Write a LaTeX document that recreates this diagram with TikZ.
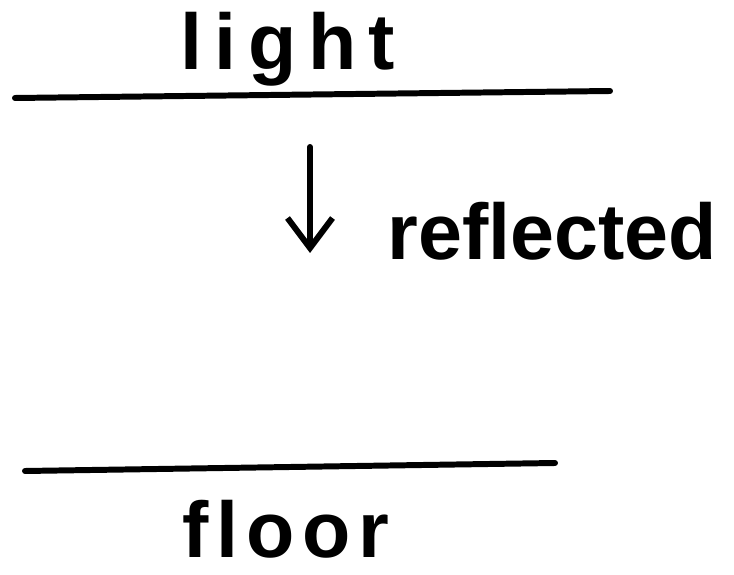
\documentclass[tikz,border=0pt]{standalone}
\usepackage{fontspec}
\setmainfont{Liberation Sans}
\usetikzlibrary{positioning, arrows.meta}
\tikzset{
  word/.style={font=\fontsize{45}{54}\selectfont\bfseries, inner sep=0pt, anchor=base},
  wide/.style={font=\fontsize{45}{54}\selectfont\bfseries\addfontfeatures{LetterSpace=#1}},
  surface/.style={line width=3.4pt, line cap=round},
  ray/.style={line width=3.4pt, line cap=round, -{Straight Barb[length=6mm, width=9mm, line width=3.4pt]}},
}

\begin{document}
\begin{tikzpicture}[x=0.02cm, y=0.02cm]
    \useasboundingbox (0,0) rectangle (734,575);
    \node[word, wide=15] (light) at (288,505) {light};
    \draw[surface] (15,477) -- (610,484);
    \coordinate (top) at (310,428);
    \coordinate (bottom) at (310,322);
    \draw[ray] (top) -- (bottom);
    \node[word, anchor=base west] (refl) at (387,315) {reflected};
    \draw[surface] (25,104) -- (555,112);
    \node[word, wide=10] (floor) at (286,17) {floor};
  \end{tikzpicture}
\end{document}
